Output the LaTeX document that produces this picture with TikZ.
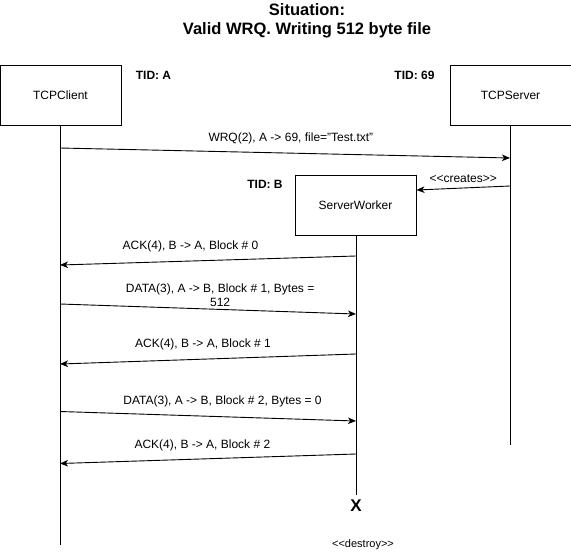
\documentclass[tikz,border=0pt]{standalone}
\usepackage{fontspec}
\setmainfont{Liberation Sans}[Ligatures=NoCommon]
\usetikzlibrary{arrows.meta}

\newcommand{\stereo}[1]{{<}{<}#1{>}{>}}

\tikzset{
    actor/.style={draw, line width=0.9pt, minimum width=121pt, minimum height=60pt, inner sep=0pt, font=\fontsize{12}{14}\selectfont},
    life/.style={line width=0.9pt},
    msg/.style={line width=0.9pt, -{Stealth[length=8pt, width=6.5pt, inset=2.2pt]}},
    lbl/.style={inner sep=1pt, font=\fontsize{12}{14.5}\selectfont, align=center},
    tid/.style={inner sep=0pt, font=\bfseries\fontsize{12}{14}\selectfont}
}

\begin{document}
\begin{tikzpicture}[x=1pt, y=-1pt]

    \useasboundingbox (0,0) rectangle (571,552);

    %----- TITLE -----
    \node[align=center, font=\bfseries\fontsize{16.5}{19}\selectfont] (title) at (307,20.5)
        {Situation:\\Valid WRQ. Writing 512 byte file};

    %----- PARTICIPANTS -----
    \def\xc{60}
    \def\xs{510}
    \def\xw{356}

    \node[actor] (client) at (60.5,95.5) {TCPClient};
    \node[actor] (server) at (510.5,95.5) {TCPServer};
    \node[actor] (worker) at (355.5,205) {ServerWorker};

    \node[tid] (tidA) at (153.5,75) {TID: A};
    \node[tid] (tid69) at (414.5,75) {TID: 69};
    \node[tid] (tidB) at (265,184) {TID: B};

    %----- LIFELINES -----
    \coordinate (clientEnd) at (\xc,545);
    \coordinate (serverEnd) at (\xs,445);
    \coordinate (workerEnd) at (\xw,495);

    \draw[life] (client.south -| clientEnd) -- (clientEnd);
    \draw[life] (server.south -| serverEnd) -- (serverEnd);
    \draw[life] (worker.south -| workerEnd) -- (workerEnd);

    %----- MESSAGE END POINTS -----
    \coordinate (wrqA)   at (\xc,148);   \coordinate (wrqB)   at (\xs,158);
    \coordinate (crA)    at (\xs,186);
    \coordinate (ack0A)  at (\xw,256);   \coordinate (ack0B)  at (\xc,265);
    \coordinate (data1A) at (\xc,304);   \coordinate (data1B) at (\xw,314);
    \coordinate (ack1A)  at (\xw,354);   \coordinate (ack1B)  at (\xc,364);
    \coordinate (data2A) at (\xc,411.5); \coordinate (data2B) at (\xw,421);
    \coordinate (ack2A)  at (\xw,454);   \coordinate (ack2B)  at (\xc,463.5);

    %----- MESSAGES -----
    \draw[msg] (wrqA) -- (wrqB)
        node[lbl, pos=0.513, above=8pt] (wrqL) {WRQ(2), A -> 69, file="Test.txt"};

    \draw[msg] (crA) -- (worker.east |- 0,190)
        node[lbl, pos=0.5, above=4pt] (crL) {\stereo{creates}};

    \draw[msg] (ack0A) -- (ack0B)
        node[lbl, pos=0.559, above=8pt] (ack0L) {ACK(4), B -> A, Block \# 0};

    \draw[msg] (data1A) -- (data1B)
        node[lbl, pos=0.541, above=1pt] (data1L) {DATA(3), A -> B, Block \# 1, Bytes =\\512};

    \draw[msg] (ack1A) -- (ack1B)
        node[lbl, pos=0.517, above=7.5pt] (ack1L) {ACK(4), B -> A, Block \# 1};

    \draw[msg] (data2A) -- (data2B)
        node[lbl, pos=0.549, above=8pt] (data2L) {DATA(3), A -> B, Block \# 2, Bytes = 0};

    \draw[msg] (ack2A) -- (ack2B)
        node[lbl, pos=0.519, above=6.5pt] (ack2L) {ACK(4), B -> A, Block \# 2};

    %----- DESTRUCTION -----
    \node[font=\bfseries\fontsize{17}{20}\selectfont, inner sep=0pt] (cross) at (\xw,506) {X};
    \node[lbl, font=\fontsize{11}{13}\selectfont] (destroy) at (363,545) {\stereo{destroy}};

\end{tikzpicture}
\end{document}
